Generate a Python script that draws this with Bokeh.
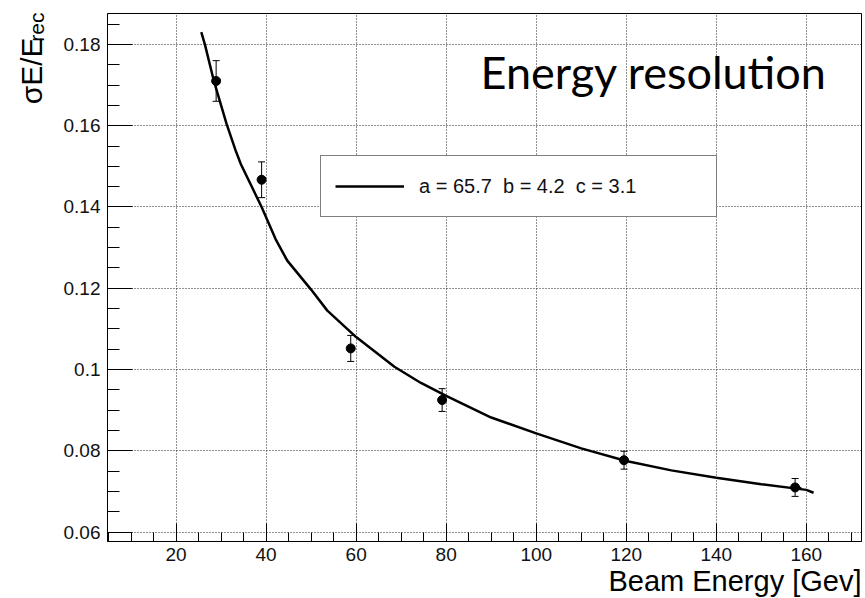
from bokeh.plotting import figure
from bokeh.models import (ColumnDataSource, Whisker, TeeHead, Legend, LegendItem, Title,
                          SingleIntervalTicker, CustomJSTickFormatter)
from bokeh.core.properties import value
from bokeh.embed import file_html
from bokeh.resources import INLINE

# ---- data ----
beam_energy = [28.9, 39.0, 58.8, 79.1, 119.5, 157.5]
resolution = [0.1710, 0.1467, 0.1052, 0.0925, 0.0777, 0.0710]
resolution_err = [0.0050, 0.0044, 0.0032, 0.0028, 0.0022, 0.0022]
energy_err = [0.0, 0.0, 0.0, 0.0, 0.0, 1.4]

fit_energy = [25.6, 26.4, 28.4, 31.2, 33.2, 34.4, 39.0, 42.1, 44.7, 49.9, 53.6, 60.0,
              68.5, 74.4, 80.0, 90.0, 100.0, 110.0, 120.0, 130.0, 140.0, 150.0, 160.0, 161.6]
fit_resolution = [0.1830, 0.1800, 0.1710, 0.1605, 0.1540, 0.1505, 0.1400, 0.1321, 0.1268,
                  0.1198, 0.1145, 0.1080, 0.1007, 0.0967, 0.0935, 0.0882, 0.0843, 0.0806,
                  0.0775, 0.0752, 0.0734, 0.0718, 0.0704, 0.0697]
fit_label = "a = 65.7  b = 4.2  c = 3.1"
x_title = "Beam Energy [Gev]"
y_title_main = "σE/E"
y_title_sub = "rec"
plot_title = "Energy resolution"

FONT = "Liberation Sans"

p = figure(width=865, height=598, x_range=(4.77, 172.25), y_range=(0.0577, 0.1876),
           output_backend="svg", toolbar_location=None,
           min_border_left=107, min_border_right=4, min_border_top=13, min_border_bottom=57)
p.background_fill_color = "white"
p.border_fill_color = "white"
p.outline_line_color = "black"
p.outline_line_width = 1

# axes
p.xaxis.ticker = SingleIntervalTicker(interval=20, num_minor_ticks=4)
p.yaxis.ticker = SingleIntervalTicker(interval=0.02, num_minor_ticks=4)
p.yaxis.formatter = CustomJSTickFormatter(code="return String(+tick.toFixed(3));")
for ax in (p.xaxis[0], p.yaxis[0]):
    ax.axis_line_color = "black"
    ax.axis_line_width = 1
    ax.major_tick_line_color = "black"
    ax.minor_tick_line_color = "black"
    ax.major_tick_out = 0
    ax.minor_tick_out = 0
    ax.major_label_text_font = FONT
    ax.major_label_text_font_size = "19px"
    ax.major_label_text_color = "#111111"
p.yaxis.major_tick_in = 25
p.yaxis.minor_tick_in = 12
p.xaxis.major_tick_in = 18
p.xaxis.minor_tick_in = 9
p.yaxis.major_label_standoff = 7
p.xaxis.major_label_standoff = 6

for g in (p.xgrid[0], p.ygrid[0]):
    g.grid_line_color = "#222222"
    g.grid_line_dash = "1 2"
    g.grid_line_width = 1

# fit curve
fit_r = p.line(fit_energy, fit_resolution, line_color="black", line_width=2.5)

# data points with error bars
src = ColumnDataSource(dict(
    x=beam_energy, y=resolution,
    lo=[v - e for v, e in zip(resolution, resolution_err)],
    hi=[v + e for v, e in zip(resolution, resolution_err)],
    xlo=[v - e for v, e in zip(beam_energy, energy_err)],
    xhi=[v + e for v, e in zip(beam_energy, energy_err)],
))
p.add_layout(Whisker(source=src, base="x", lower="lo", upper="hi", dimension="height",
                     line_color="black", line_width=1,
                     lower_head=TeeHead(size=7, line_color="black", line_width=1),
                     upper_head=TeeHead(size=7, line_color="black", line_width=1)))
p.add_layout(Whisker(source=src, base="y", lower="xlo", upper="xhi", dimension="width",
                     line_color="black", line_width=1, lower_head=None, upper_head=None))
p.scatter("x", "y", source=src, size=9, color="black")

# legend
legend = Legend(items=[LegendItem(label=fit_label, renderers=[fit_r])],
                location=(213, 324), padding=14, margin=0, spacing=0,
                glyph_width=69, glyph_height=32, label_standoff=15, label_width=283,
                label_text_font=FONT, label_text_font_size="20px", label_text_color="#111111",
                border_line_color="black", border_line_width=1,
                background_fill_color="white", background_fill_alpha=1.0)
p.add_layout(legend)

# in-frame title text (data coordinates)
p.text(x=[164.6], y=[0.1733], text=[plot_title], text_font=value("Lato"),
       text_font_size="45px", text_align="right", text_baseline="alphabetic",
       text_color="black")

# axis titles as side-panel titles
p.add_layout(Title(text=x_title, align="right", vertical_align="bottom", standoff=-2,
                   text_font=FONT, text_font_size="29px", text_font_style="normal",
                   text_color="black"), "below")
p.add_layout(Title(text=y_title_sub, align="right", vertical_align="bottom", standoff=25,
                   offset=-1, text_font=FONT, text_font_size="21px",
                   text_font_style="normal", text_color="black"), "left")
p.add_layout(Title(text=y_title_main, align="right", vertical_align="bottom", standoff=-74,
                   offset=24, text_font=FONT, text_font_size="30px",
                   text_font_style="normal", text_color="black"), "left")

open("out.html", "w").write(file_html(p, INLINE))
